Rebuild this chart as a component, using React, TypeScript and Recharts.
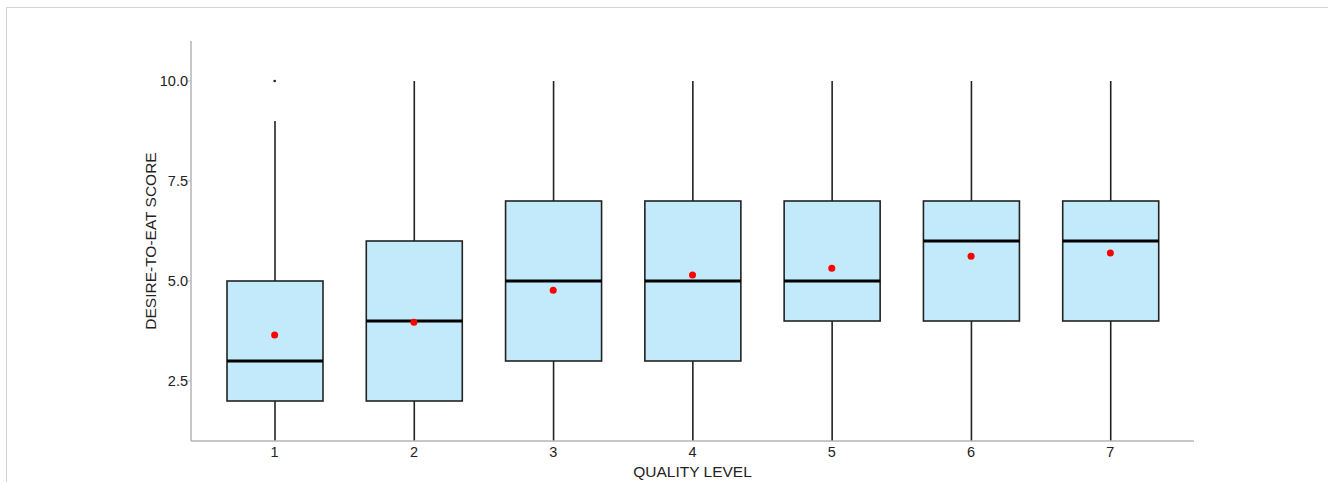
import React from 'react';
import { ComposedChart, Bar, Line, XAxis, YAxis, Label } from 'recharts';

// quality levels and box plot statistics
const categories = ['1', '2', '3', '4', '5', '6', '7'];
const whiskerLow = [1, 1, 1, 1, 1, 1, 1];
const lowerQuartile = [2, 2, 3, 3, 4, 4, 4];
const medians = [3, 4, 5, 5, 5, 6, 6];
const upperQuartile = [5, 6, 7, 7, 7, 7, 7];
const whiskerHigh = [9, 10, 10, 10, 10, 10, 10];
const means = [3.65, 3.97, 4.77, 5.15, 5.32, 5.62, 5.7];
const outliers: (number | null)[] = [10, null, null, null, null, null, null];
const yTicks = [2.5, 5, 7.5, 10];

const data = categories.map((level, i) => ({
  level,
  range: [whiskerLow[i], whiskerHigh[i]],
  q1: lowerQuartile[i],
  median: medians[i],
  q3: upperQuartile[i],
  mean: means[i],
  outlier: outliers[i],
}));

const FONT = '"Liberation Sans", Arial, sans-serif';
const AXIS_GREY = '#b5b5b5';
const TEXT = '#222';

// draws whiskers, box and median from the range bar's own geometry
const BoxShape = (props: any) => {
  const { x, y, width, height, payload } = props;
  const [lo, hi] = payload.range;
  const ppu = height / (hi - lo);
  const toY = (v: number) => y + (hi - v) * ppu;
  const cx = x + width / 2;
  const yQ1 = toY(payload.q1);
  const yQ3 = toY(payload.q3);
  const yMed = toY(payload.median);
  return (
    <g>
      <line x1={cx} x2={cx} y1={y} y2={yQ3} stroke="#222" strokeWidth={1.6} />
      <line x1={cx} x2={cx} y1={yQ1} y2={y + height} stroke="#222" strokeWidth={1.6} />
      <rect x={x} y={yQ3} width={width} height={yQ1 - yQ3} fill="#c2eafb" stroke="#222" strokeWidth={1.6} />
      <line x1={x} x2={x + width} y1={yMed} y2={yMed} stroke="#000" strokeWidth={3} />
    </g>
  );
};

export default function App() {
  return (
    <div style={{ position: 'absolute', left: 0, top: 0, width: 1328, height: 484, background: '#fff' }}>
      <div style={{ position: 'absolute', left: 6, top: 7, width: 1322, height: 1, background: '#d4d4d4' }} />
      <div style={{ position: 'absolute', left: 6, top: 7, width: 1, height: 475, background: '#d4d4d4' }} />
      <div style={{ position: 'absolute', left: 0, top: 0 }}>
        <ComposedChart
          width={1328}
          height={484}
          data={data}
          margin={{ top: 41, right: 134, bottom: 0, left: 0 }}
          style={{ fontFamily: FONT }}
        >
          <XAxis
            dataKey="level"
            height={43}
            padding={{ left: 14, right: 14 }}
            axisLine={{ stroke: AXIS_GREY, strokeWidth: 1.5 }}
            tickLine={false}
            tickSize={4}
            tickMargin={2}
            tick={{ fill: TEXT, fontSize: 14.5 }}
          >
            <Label value="QUALITY LEVEL" position="insideBottom" offset={7} fill={TEXT} fontSize={15.5} />
          </XAxis>
          <YAxis
            width={191}
            type="number"
            domain={[1, 11]}
            ticks={yTicks}
            allowDataOverflow
            tickFormatter={(v: number) => v.toFixed(1)}
            axisLine={{ stroke: AXIS_GREY, strokeWidth: 1.5 }}
            tickLine={{ stroke: AXIS_GREY }}
            tickSize={3}
            tickMargin={0}
            tick={{ fill: TEXT, fontSize: 14.5 }}
          >
            <Label
              value="DESIRE-TO-EAT SCORE"
              angle={-90}
              position="insideLeft"
              offset={150}
              fill={TEXT}
              fontSize={15.5}
              style={{ textAnchor: 'middle' }}
            />
          </YAxis>
          <Bar dataKey="range" barSize={96} shape={BoxShape} isAnimationActive={false} />
          <Line
            dataKey="mean"
            stroke="none"
            dot={{ r: 3.5, fill: '#ff0000', stroke: 'none' }}
            activeDot={false}
            isAnimationActive={false}
          />
          <Line
            dataKey="outlier"
            stroke="none"
            dot={{ r: 1.3, fill: '#222', stroke: 'none' }}
            activeDot={false}
            isAnimationActive={false}
          />
        </ComposedChart>
      </div>
    </div>
  );
}
